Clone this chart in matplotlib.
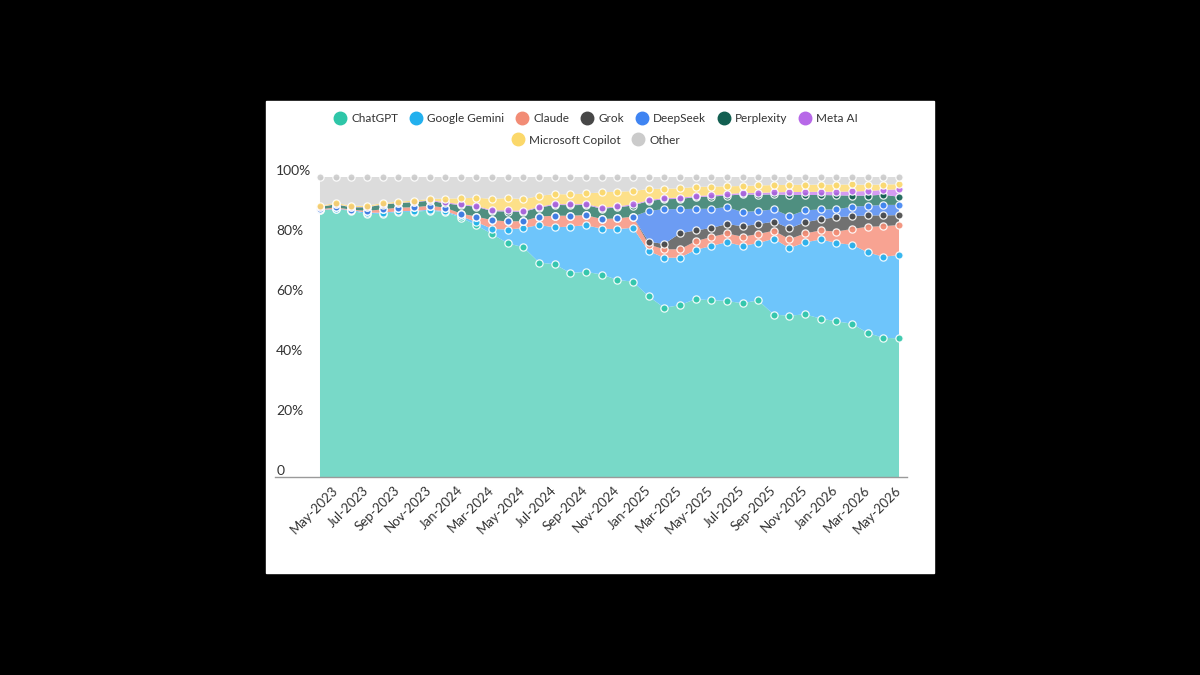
import pandas as pd
import matplotlib
matplotlib.use("Agg")
import matplotlib.pyplot as plt
from matplotlib.lines import Line2D
from matplotlib.patches import Rectangle

plt.rcParams['font.family'] = ['Lato', 'DejaVu Sans']

# months Apr-2023 .. May-2026 (38 points), labels shown every other month
months = pd.date_range("2023-04-01", periods=38, freq="MS").strftime("%b-%Y").tolist()

names = ["ChatGPT", "Google Gemini", "Claude", "Grok", "DeepSeek",
         "Perplexity", "Meta AI", "Microsoft Copilot", "Other"]

# market share in %
chatgpt = [88.9, 89.2, 88.8, 87.6, 87.8, 88.3, 88.4, 88.8, 88.3, 86.5, 83.9, 81.0, 77.9,
           76.6, 71.5, 70.9, 68.0, 68.4, 67.5, 65.7, 65.1, 60.2, 56.4, 57.3, 59.3, 58.9,
           58.7, 57.9, 58.9, 54.1, 53.8, 54.2, 52.8, 51.9, 51.1, 48.0, 46.4, 46.2]
gemini = [0.1, 0.2, 0.2, 0.5, 0.3, 0.3, 0.3, 0.3, 0.3, 0.4, 1.1, 1.7, 4.6,
          6.4, 12.5, 12.3, 15.5, 15.5, 15.3, 16.9, 18.0, 15.1, 16.7, 15.8, 16.4, 18.1,
          19.6, 19.1, 19.1, 25.3, 22.5, 24.0, 26.4, 26.1, 26.3, 26.9, 27.0, 27.8]
claude = [0.2, 0.5, 0.1, 0.6, 1.1, 1.2, 1.2, 1.3, 1.2, 0.9, 1.8, 2.9, 2.7,
          2.3, 2.8, 3.9, 3.6, 3.4, 3.2, 3.6, 3.7, 2.2, 2.8, 2.8, 2.9, 3.0,
          2.9, 3.1, 3.0, 2.7, 3.0, 3.0, 3.0, 3.8, 5.3, 8.5, 10.2, 10.0]
grok = [0, 0, 0, 0, 0, 0, 0, 0, 0, 0, 0, 0, 0,
        0, 0, 0, 0, 0, 0, 0, 0, 0.9, 1.8, 5.3, 3.6, 3.0,
        3.1, 3.5, 3.3, 3.0, 3.6, 3.7, 3.7, 4.8, 4.2, 3.8, 3.6, 3.3]
deepseek = [0, 0, 0, 0, 0, 0, 0, 0, 0, 0, 0, 0, 0,
            0, 0, 0, 0, 0, 0, 0, 0, 10.3, 11.6, 8.1, 7.2, 6.4,
            5.7, 4.7, 4.4, 4.1, 4.1, 4.0, 3.3, 2.6, 3.2, 3.2, 3.5, 3.4]
perplexity = [0.8, 1.0, 0.8, 1.2, 1.6, 1.5, 1.7, 1.7, 1.4, 2.8, 3.3, 3.0, 3.3,
              3.1, 3.0, 3.6, 3.5, 3.4, 3.4, 3.7, 3.7, 3.3, 3.3, 3.4, 3.9, 4.1,
              3.8, 5.9, 5.4, 5.0, 7.0, 5.1, 4.8, 4.7, 3.7, 3.4, 3.4, 2.7]
meta_ai = [0.1, 0.1, 0.1, 0.1, 0.1, 0.1, 0.1, 0.2, 0.4, 0.3, 0.3, 0.3, 0.4,
           0.3, 0.3, 0.3, 0.3, 0.3, 0.4, 0.3, 0.4, 0.3, 0.4, 0.4, 0.4, 0.4,
           0.5, 0.5, 0.6, 0.7, 1.0, 1.0, 1.1, 1.2, 1.4, 1.5, 1.6, 2.5]
copilot = [0.3, 0.4, 0.4, 0.4, 0.4, 0.4, 0.4, 0.4, 1.2, 2.0, 2.7, 3.8, 4.1,
           3.9, 3.6, 3.3, 3.3, 3.5, 5.1, 4.9, 4.4, 3.7, 3.1, 3.1, 3.0, 2.9,
           2.6, 2.3, 2.5, 2.4, 2.4, 2.4, 2.4, 2.4, 2.3, 2.1, 1.8, 1.7]
other = [9.6, 8.6, 9.6, 9.6, 8.7, 8.2, 7.9, 7.3, 7.2, 7.1, 6.9, 7.3, 7.0,
         7.4, 6.3, 5.7, 5.8, 5.5, 5.1, 4.9, 4.7, 4.0, 3.9, 3.8, 3.3, 3.2,
         3.1, 3.0, 2.8, 2.7, 2.6, 2.6, 2.5, 2.5, 2.5, 2.6, 2.5, 2.4]

values = [chatgpt, gemini, claude, grok, deepseek, perplexity, meta_ai, copilot, other]

dot_colors = ["#2ec6a8", "#22b0ee", "#f28c75", "#474747", "#3f84f2",
              "#125f51", "#b768e8", "#fbd86a", "#cbcbcb"]
area_colors = ["#78d9c8", "#6ec5fb", "#f8a392", "#717171", "#6c9cf3",
               "#4f8f80", "#d59cf2", "#fde089", "#dcdcdc"]

W, H = 1200, 675
fig = plt.figure(figsize=(12, 6.75), dpi=100, facecolor="black")
fig.patches.append(Rectangle((266 / W, 1 - 573 / H), 668 / W, 472 / H,
                             transform=fig.transFigure, color="white", zorder=-1))

ax = fig.add_axes([275 / W, 1 - 477 / H, (907 - 275) / W, (477 - 177) / H])
ax.set_facecolor("none")
ax.set_zorder(1)

x = list(range(len(months)))
ax.stackplot(x, values, colors=area_colors, linewidth=0, zorder=1)

cum = [0.0] * len(x)
for k, vals in enumerate(values):
    cum = [c + v for c, v in zip(cum, vals)]
    ax.scatter(x, cum, s=27, color=dot_colors[k], alpha=0.9, edgecolors="white",
               linewidths=0.9, zorder=3 + k, clip_on=False)

ax.set_xlim(-2.875, 37.51)
ax.set_ylim(0, 100)

for s in ["top", "left", "right"]:
    ax.spines[s].set_visible(False)
ax.spines["bottom"].set_color("#9a9a9a")
ax.spines["bottom"].set_linewidth(1)

ax.set_yticks([])
ax.set_xticks(x[1::2])
ax.set_xticklabels(months[1::2], rotation=45, ha="right", va="center",
                   rotation_mode="anchor", fontsize=9.5, color="#333333")
ax.tick_params(axis="x", length=0, pad=8)

for v, lab in zip([0, 20, 40, 60, 80, 100], ["0", "20%", "40%", "60%", "80%", "100%"]):
    ax.annotate(lab, xy=(0.002, v), xycoords=("axes fraction", "data"),
                xytext=(0, 0), textcoords="offset points", ha="left", va="bottom",
                fontsize=10, color="#333333")

handles = [Line2D([], [], marker="o", linestyle="", markersize=9,
                  markerfacecolor=c, markeredgecolor=c) for c in dot_colors]
leg1 = fig.legend(handles[:7], names[:7], loc="center", bbox_to_anchor=(596 / W, 1 - 119 / H),
                  ncol=7, frameon=False, fontsize=8.5, handletextpad=0.45,
                  columnspacing=1.0, handlelength=1.0)
leg2 = fig.legend(handles[7:], names[7:], loc="center", bbox_to_anchor=(596 / W, 1 - 140 / H),
                  ncol=2, frameon=False, fontsize=8.5, handletextpad=0.45,
                  columnspacing=1.0, handlelength=1.0)
for leg in (leg1, leg2):
    for t in leg.get_texts():
        t.set_color("#333333")

fig.savefig("out.png", dpi=100, facecolor="black")
